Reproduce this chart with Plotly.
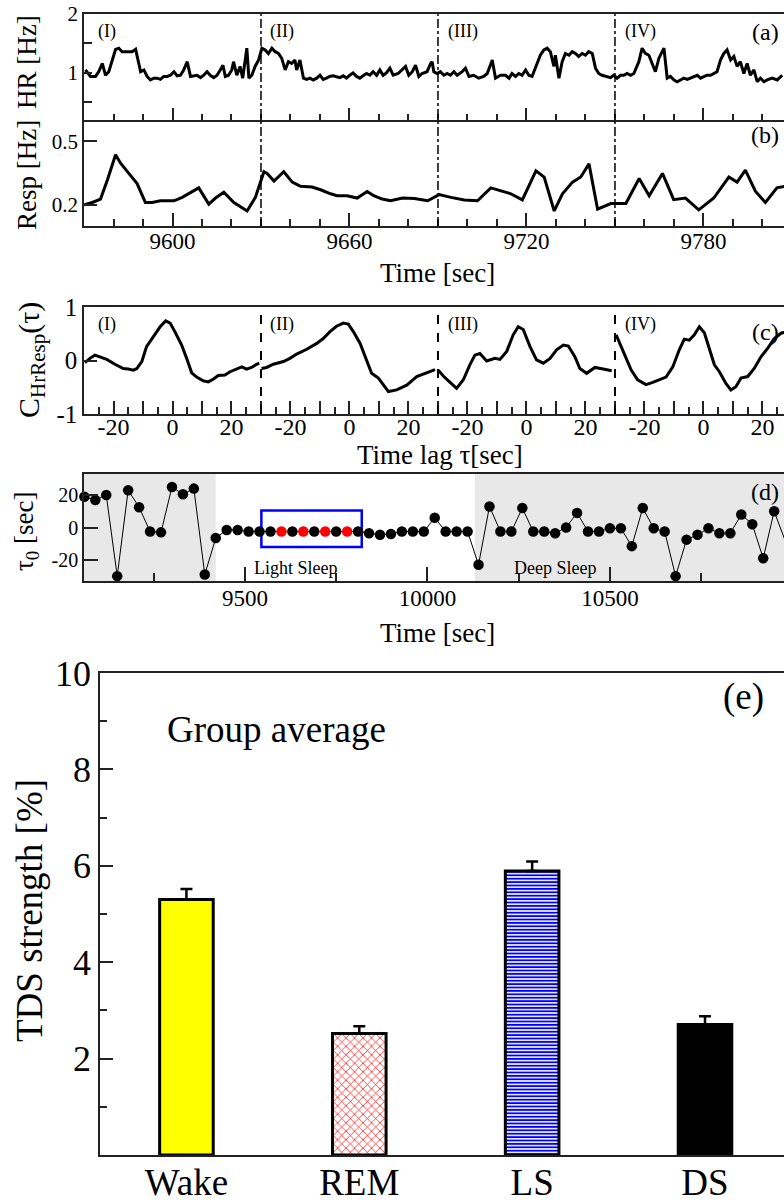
import plotly.graph_objects as go

FONT = "Liberation Serif, Times New Roman, serif"
W, H = 784, 1200

# ---------------- data ----------------
# (a) heart rate [Hz]
hr_t = [9570.5, 9572.2, 9573.9, 9575.0, 9576.2, 9577.3, 9578.4, 9579.5, 9580.7, 9581.8, 9582.9, 9584.6,
        9586.3, 9587.5, 9588.0, 9589.2, 9590.3, 9591.4, 9592.5, 9593.7, 9594.8, 9595.9, 9597.0, 9598.2,
        9599.3, 9600.5, 9601.6, 9602.7, 9603.8, 9605.0, 9606.1, 9607.2, 9608.3, 9609.5, 9610.6, 9611.7,
        9612.8, 9614.0, 9615.1, 9616.2, 9617.1, 9617.9, 9619.0, 9620.1, 9620.7, 9621.8, 9622.9, 9623.8,
        9624.4, 9625.2, 9625.9, 9626.9, 9628.0, 9629.2, 9630.3, 9631.4, 9632.5, 9633.7, 9634.8, 9635.9,
        9637.0, 9638.2, 9639.3, 9640.4, 9641.5, 9642.1, 9643.2, 9644.4, 9645.5, 9646.6, 9647.7, 9648.9,
        9650.0, 9651.1, 9652.2, 9653.3, 9654.5, 9655.6, 9656.7, 9657.9, 9659.0, 9660.1, 9661.2, 9662.4,
        9663.5, 9664.6, 9665.8, 9666.9, 9668.0, 9669.2, 9670.3, 9671.4, 9672.5, 9673.7, 9674.8, 9676.5,
        9679.0, 9680.1, 9681.3, 9682.4, 9683.5, 9684.6, 9686.3, 9687.5, 9688.0, 9688.6, 9689.7, 9690.8,
        9692.0, 9693.1, 9694.2, 9695.4, 9696.5, 9698.2, 9699.3, 9700.5, 9702.1, 9703.8, 9705.5, 9706.7,
        9708.4, 9709.5, 9711.2, 9712.9, 9714.1, 9715.1, 9716.3, 9717.4, 9718.5, 9719.7, 9720.8, 9721.9,
        9723.6, 9724.7, 9725.9, 9727.0, 9728.1, 9729.3, 9729.8, 9731.0, 9732.1, 9733.2, 9734.4, 9735.5,
        9736.6, 9737.7, 9738.9, 9740.0, 9741.1, 9742.3, 9743.4, 9744.5, 9745.6, 9746.8, 9748.5, 9749.6,
        9750.7, 9751.9, 9753.0, 9754.1, 9755.3, 9756.4, 9758.1, 9759.2, 9760.3, 9761.5, 9762.6, 9763.7,
        9764.9, 9766.0, 9766.6, 9767.7, 9768.8, 9770.0, 9771.1, 9772.2, 9773.3, 9774.5, 9775.6, 9776.7,
        9777.9, 9779.0, 9780.1, 9781.2, 9782.4, 9783.5, 9784.6, 9785.8, 9786.9, 9788.0, 9789.2, 9790.3,
        9791.4, 9792.5, 9793.7, 9794.8, 9795.9, 9797.1, 9798.2, 9799.3, 9800.5, 9801.6, 9803.3, 9805.0,
        9806.7]
hr_v = [1.05, 0.94, 0.94, 1.02, 1.16, 0.96, 1.02, 1.22, 1.40, 1.42, 1.36, 1.36,
        1.36, 1.40, 1.28, 1.02, 1.05, 0.94, 0.88, 0.91, 0.91, 0.89, 0.94, 0.94,
        0.96, 1.02, 0.95, 0.96, 1.05, 1.19, 0.94, 0.95, 0.96, 0.92, 0.96, 1.02,
        0.96, 0.92, 0.96, 1.05, 1.13, 0.94, 0.96, 1.05, 1.19, 0.96, 1.11, 0.91,
        1.16, 1.42, 0.91, 0.96, 1.11, 1.22, 1.42, 1.39, 1.33, 1.42, 1.36, 1.33,
        1.25, 1.05, 1.19, 1.16, 1.22, 1.05, 1.22, 0.91, 0.89, 0.91, 0.88, 0.91,
        0.96, 0.89, 0.91, 0.94, 0.95, 0.94, 0.92, 0.95, 0.91, 0.96, 1.00, 0.94,
        0.91, 0.95, 0.99, 0.96, 1.02, 0.96, 1.05, 0.96, 1.00, 1.08, 0.96, 0.99,
        1.11, 0.96, 1.02, 1.13, 0.94, 0.99, 1.02, 1.16, 1.19, 1.02, 0.99, 1.02,
        0.96, 0.99, 0.96, 1.02, 0.96, 1.02, 1.08, 0.94, 0.96, 0.91, 0.94, 0.99,
        1.22, 0.91, 0.96, 0.96, 0.91, 0.99, 0.94, 0.99, 0.96, 1.05, 0.96, 0.94,
        1.16, 1.30, 1.39, 1.42, 1.36, 1.11, 1.30, 0.91, 1.19, 1.33, 1.30, 1.36,
        1.33, 1.28, 1.33, 1.30, 1.36, 1.33, 1.08, 0.99, 0.96, 0.94, 0.92, 0.96,
        0.91, 0.96, 0.96, 0.99, 0.96, 0.99, 1.19, 1.42, 1.33, 1.30, 1.16, 1.02,
        1.25, 1.36, 1.42, 0.91, 0.94, 0.88, 0.85, 0.88, 0.91, 0.89, 0.91, 0.94,
        0.96, 0.91, 0.94, 0.96, 0.96, 0.99, 1.02, 1.22, 1.33, 1.39, 1.22, 1.28,
        1.11, 1.19, 0.99, 1.16, 0.96, 1.05, 0.85, 0.91, 0.85, 0.88, 0.91, 0.88,
        0.96]

# (b) respiration [Hz]
resp_t = [9570.2, 9572.8, 9575.6, 9577.9, 9580.7, 9582.4, 9585.2, 9588.0, 9590.8, 9593.1,
          9595.9, 9600.5, 9603.3, 9606.1, 9608.9, 9612.3, 9614.6, 9617.4, 9620.8, 9625.3,
          9628.1, 9631.0, 9632.1, 9634.4, 9637.7, 9640.6, 9643.4, 9647.3, 9650.2, 9653.6,
          9655.8, 9659.2, 9662.6, 9666.0, 9668.2, 9671.1, 9673.9, 9678.0, 9682.0, 9686.5,
          9690.4, 9694.4, 9698.9, 9703.4, 9707.9, 9714.7, 9718.6, 9723.2, 9726.0, 9729.4,
          9732.2, 9735.6, 9738.4, 9741.2, 9744.1, 9748.6, 9753.7, 9758.2, 9761.6, 9766.1,
          9769.9, 9773.9, 9778.4, 9783.5, 9788.6, 9791.4, 9794.2, 9797.6, 9801.0, 9804.9,
          9807.4]
resp_v = [0.200, 0.211, 0.227, 0.316, 0.436, 0.396, 0.348, 0.300, 0.211, 0.211,
          0.219, 0.219, 0.235, 0.259, 0.280, 0.203, 0.232, 0.259, 0.211, 0.171,
          0.235, 0.356, 0.348, 0.312, 0.356, 0.307, 0.287, 0.284, 0.271, 0.252,
          0.243, 0.243, 0.232, 0.263, 0.243, 0.227, 0.219, 0.232, 0.230, 0.219,
          0.248, 0.235, 0.223, 0.219, 0.280, 0.252, 0.223, 0.360, 0.331, 0.171,
          0.252, 0.307, 0.331, 0.393, 0.179, 0.206, 0.206, 0.324, 0.243, 0.348,
          0.224, 0.232, 0.176, 0.232, 0.331, 0.307, 0.364, 0.264, 0.211, 0.280,
          0.287]

window_edges = [9630, 9690, 9750]
window_names = ["(I)", "(II)", "(III)", "(IV)"]

# (c) cross-correlation per window
c1_lag = [-29.7, -28.0, -26.3, -24.6, -22.3, -19.5, -16.7, -15.0, -13.3, -12.1, -10.4, -8.8, -6.5,
          -4.2, -2.3, -0.8, 0.8, 3.1, 4.8, 6.5, 8.2, 10.4, 12.1, 13.8, 15.5, 17.8, 19.5, 21.8,
          23.5, 25.1, 26.8, 28.5, 29.4]
c1_val = [-0.04, 0.04, 0.10, 0.07, 0.02, -0.07, -0.15, -0.16, -0.18, -0.15, -0.02, 0.26, 0.44,
          0.63, 0.74, 0.70, 0.54, 0.29, 0.04, -0.23, -0.31, -0.38, -0.40, -0.35, -0.28, -0.27,
          -0.21, -0.15, -0.12, -0.16, -0.13, -0.07, -0.05]
c2_lag = [-29.8, -28.1, -25.8, -22.4, -20.2, -17.9, -14.5, -11.1, -8.9, -6.6, -4.4, -2.1, -0.4,
          1.3, 3.6, 5.8, 7.5, 9.8, 11.5, 13.2, 16.0, 19.4, 22.8, 25.6, 29.0]
c2_val = [-0.15, -0.13, -0.07, -0.02, 0.04, 0.12, 0.21, 0.32, 0.41, 0.54, 0.64, 0.70, 0.68,
          0.54, 0.32, 0.01, -0.24, -0.33, -0.46, -0.58, -0.55, -0.46, -0.30, -0.24, -0.17]
c3_lag = [-29.9, -28.2, -25.9, -23.7, -21.4, -19.2, -17.5, -15.8, -13.5, -10.7, -9.0, -6.7, -4.5,
          -2.8, -1.1, 1.2, 3.4, 5.7, 8.0, 10.2, 12.5, 14.2, 16.4, 18.1, 20.4, 23.2, 26.0, 28.9]
c3_val = [-0.18, -0.29, -0.41, -0.52, -0.36, -0.08, 0.10, 0.13, -0.01, 0.04, 0.02, 0.17, 0.48,
          0.63, 0.58, 0.26, 0.01, -0.05, 0.04, 0.20, 0.29, 0.27, 0.07, -0.15, -0.24, -0.13,
          -0.16, -0.19]
c4_lag = [-29.6, -27.9, -26.2, -24.5, -22.3, -19.5, -17.2, -14.9, -12.7, -10.4, -8.2, -6.5, -4.8,
          -3.1, -1.4, 0.3, 2.0, 3.7, 5.4, 7.6, 9.3, 11.0, 12.7, 15.0, 17.2, 19.5, 21.8, 24.0,
          26.3, 28.2]
c4_val = [0.48, 0.26, 0.01, -0.18, -0.36, -0.45, -0.41, -0.36, -0.31, -0.12, 0.20, 0.40, 0.38,
          0.48, 0.63, 0.52, 0.23, -0.08, -0.21, -0.43, -0.55, -0.49, -0.33, -0.30, -0.15, 0.07,
          0.23, 0.41, 0.51, 0.54]
lag_max = 30

# (d) time delay tau0 [sec]
tau_t = [9060, 9090, 9120, 9150, 9180, 9210, 9240, 9270, 9300, 9330, 9360, 9390, 9420, 9450,
         9480, 9510, 9540, 9570, 9600, 9630, 9660, 9690, 9720, 9750, 9780, 9810, 9840, 9870,
         9900, 9930, 9960, 9990, 10020, 10050, 10080, 10110, 10140, 10170, 10200, 10230, 10260,
         10290, 10320, 10350, 10380, 10410, 10440, 10470, 10500, 10530, 10560, 10590, 10620,
         10650, 10680, 10710, 10740, 10770, 10800, 10830, 10860, 10890, 10920, 10950, 10980]
tau_v = [19, 17, 20, -30, 23, 12.5, -2.5, -3, 25, 20.5, 24, -29, -6.5, -1.5,
         -1.5, -2.5, -2.5, -2.5, -2.5, -2.5, -2.5, -2.5, -2.5, -2.5, -2.5, -2.5, -3.5, -4.5,
         -4, -2.5, -2.5, -2.5, 6, -2.5, -2.5, -2.5, -23, 13, -2.5, -2.5, 12,
         -2.5, -2.5, -3.5, 0, 9, -2.5, -2.5, -0.5, -0.5, -11.5, 12, -0.5,
         -2.5, -30, -7.5, -4.5, -0.5, -3.5, -3.5, 8, 2, -19, 10, -8]
tau_highlight = [9600, 9660, 9720, 9780]
wake_end = 9420
deep_start = 10130
light_box_t = [9545, 9820]
light_box_v = [-12, 10.5]

# (e) group average
stages = ["Wake", "REM", "LS", "DS"]
tds_mean = [5.30, 2.52, 5.89, 2.71]
tds_err = [0.22, 0.15, 0.20, 0.17]

# ---------------- styling ----------------
stage_fill = ["yellow", "white", "white", "black"]
stage_pattern = ["", "x", "-", ""]
stage_fg = ["black", "red", "blue", "black"]
stage_psize = [8, 6, 3.4, 8]
stage_solid = [0.3, 0.22, 0.55, 0.3]


def px(x):
    return x / W


def py(y):
    return 1 - y / H


def tf(size):
    return dict(family=FONT, size=size, color="black")


XL = px(84)
AX = dict(showline=True, linecolor="#222", linewidth=1.5, showgrid=False, zeroline=False,
          ticks="inside", tickcolor="#222", tickwidth=1.5, automargin=False)
MIN = dict(ticks="inside", tickcolor="#222", tickwidth=1.5)
t_range = [9570, 9807.3]
tau_range = [9059, 10977]

fig = go.Figure()

fig.add_trace(go.Scatter(x=hr_t, y=hr_v, mode="lines", line=dict(color="black", width=3),
                         xaxis="x", yaxis="y", hoverinfo="skip"))
fig.add_trace(go.Scatter(x=resp_t, y=resp_v, mode="lines", line=dict(color="black", width=3),
                         xaxis="x2", yaxis="y2", hoverinfo="skip"))

c_windows = [(c1_lag, c1_val), (c2_lag, c2_val), (c3_lag, c3_val), (c4_lag, c4_val)]
for k, (lag, val) in enumerate(c_windows):
    centre = lag_max + 2 * lag_max * k
    fig.add_trace(go.Scatter(x=[centre + l for l in lag], y=val, mode="lines",
                             line=dict(color="black", width=3), xaxis="x3", yaxis="y3",
                             hoverinfo="skip"))

tau_colors = ["red" if t in tau_highlight else "black" for t in tau_t]
fig.add_trace(go.Scatter(x=tau_t, y=tau_v, mode="lines+markers",
                         line=dict(color="black", width=1),
                         marker=dict(size=10.5, color=tau_colors),
                         cliponaxis=False, xaxis="x4", yaxis="y4", hoverinfo="skip"))

for i, st in enumerate(stages):
    fig.add_trace(go.Bar(
        x=[st], y=[tds_mean[i]], width=0.31, xaxis="x5", yaxis="y5",
        marker=dict(color=stage_fill[i], line=dict(color="black", width=3),
                    pattern=dict(shape=stage_pattern[i], fgcolor=stage_fg[i], fgopacity=1,
                                 size=stage_psize[i], solidity=stage_solid[i],
                                 fillmode="replace")),
        error_y=dict(type="data", array=[tds_err[i]], arrayminus=[0], symmetric=False,
                     color="black", thickness=2.5, width=6),
        hoverinfo="skip",
    ))

# c-panel tick positions (lag labels repeated per window)
c_tickvals, c_ticktext, c_minor = [], [], []
for k in range(4):
    centre = lag_max + 2 * lag_max * k
    for l in [-30, -20, -10, 0, 10, 20]:
        c_tickvals.append(centre + l)
        c_ticktext.append(str(l) if l in (-20, 0, 20) else "")
    for l in [-25, -15, -5, 5, 15, 25]:
        c_minor.append(centre + l)

fig.update_layout(
    width=W, height=H, margin=dict(l=0, r=0, t=0, b=0, pad=0, autoexpand=False),
    paper_bgcolor="white", plot_bgcolor="white", showlegend=False, barmode="overlay",
    font=dict(family=FONT, color="black"),
    xaxis=dict(AX, domain=[XL, 1], anchor="y", range=t_range, mirror=True,
               tick0=9600, dtick=60, ticklen=12, showticklabels=False,
               minor=dict(MIN, tick0=9600, dtick=10, ticklen=6)),
    yaxis=dict(AX, domain=[py(120), py(14)], anchor="x", range=[0.2, 2],
               tickvals=[1, 2], ticktext=["1", "2"], ticklen=8, tickfont=tf(21),
               minor=dict(MIN, tickvals=[0.5, 1.5], ticklen=8)),
    xaxis2=dict(AX, domain=[XL, 1], anchor="y2", range=t_range, mirror=False,
                tick0=9600, dtick=60, ticklen=13, tickfont=tf(23), tickformat="d",
                ticklabelstandoff=-6,
                minor=dict(MIN, tick0=9600, dtick=10, ticklen=7)),
    yaxis2=dict(AX, domain=[py(226), py(120)], anchor="x2", range=[0.1, 0.6],
                tickvals=[0.2, 0.5], ticktext=["0.2", "0.5"], ticklen=13, tickfont=tf(21)),
    xaxis3=dict(AX, domain=[XL, 1], anchor="y3", range=[0, 237.3], mirror=True,
                tickvals=c_tickvals, ticktext=c_ticktext, ticklen=13, tickfont=tf(24),
                ticklabelstandoff=-10,
                minor=dict(MIN, tickvals=c_minor, ticklen=7)),
    yaxis3=dict(AX, domain=[py(414), py(307)], anchor="x3", range=[-1, 1],
                tickvals=[-1, 0, 1], ticktext=["-1", "0", "1"], ticklen=13, tickfont=tf(25)),
    xaxis4=dict(AX, domain=[XL, 1], anchor="y4", range=tau_range, mirror=True,
                tickvals=[9500, 10000, 10500], ticktext=["9500", "10000", "10500"],
                ticklen=14, tickfont=tf(23), ticklabelstandoff=-4,
                minor=dict(MIN, tickvals=[9250, 9750, 10250, 10750], ticklen=8)),
    yaxis4=dict(AX, domain=[py(581), py(474)], anchor="x4", range=[-33, 33],
                tickvals=[-20, 0, 20], ticktext=["-20", "0", "20"], ticklen=14, tickfont=tf(20)),
    xaxis5=dict(showline=True, linecolor="#222", linewidth=1.5, showgrid=False, zeroline=False,
                automargin=False, domain=[px(100), 1], anchor="y5", type="category",
                range=[-0.5, 3.457], mirror=True, ticks="", tickfont=tf(37),
                ticklabelstandoff=-6),
    yaxis5=dict(AX, domain=[py(1155), py(673)], anchor="x5", range=[0, 10],
                tickvals=[2, 4, 6, 8, 10], ticktext=["2", "4", "6", "8", "10"],
                ticklen=13, tickfont=tf(36),
                minor=dict(MIN, tickvals=[1, 3, 5, 7, 9], ticklen=7)),
)

shapes = []
for t in window_edges:
    shapes.append(dict(type="line", xref="x", yref="paper", x0=t, x1=t,
                       y0=py(226), y1=py(14), line=dict(color="black", width=1.5, dash="dashdot")))
for k in range(1, 4):
    xc = 2 * lag_max * k
    shapes.append(dict(type="line", xref="x3", yref="y3 domain", x0=xc, x1=xc, y0=0, y1=1,
                       line=dict(color="black", width=2, dash="dash")))
shapes.append(dict(type="rect", xref="x4", yref="y4 domain", x0=tau_range[0], x1=wake_end,
                   y0=0, y1=1, fillcolor="#e8e8e8", line=dict(width=0), layer="below"))
shapes.append(dict(type="rect", xref="x4", yref="y4 domain", x0=deep_start, x1=tau_range[1],
                   y0=0, y1=1, fillcolor="#e8e8e8", line=dict(width=0), layer="below"))
shapes.append(dict(type="rect", xref="x4", yref="y4", x0=light_box_t[0], x1=light_box_t[1],
                   y0=light_box_v[0], y1=light_box_v[1], line=dict(color="blue", width=2.5),
                   fillcolor="rgba(0,0,0,0)", layer="below"))
fig.update_layout(shapes=shapes)


def ann(text, x, y, size, angle=0, xanchor="center"):
    return dict(text=text, x=px(x), y=py(y), xref="paper", yref="paper", showarrow=False,
                font=tf(size), textangle=angle, xanchor=xanchor, yanchor="middle")


annotations = [
    ann("HR [Hz]", 27, 62, 27, -90),
    ann("Resp [Hz]", 27, 175, 27, -90),
    ann("Time [sec]", 437, 273, 27),
    ann("C<sub>HrResp</sub>(τ)", 31, 360, 30, -90),
    ann("Time lag τ[sec]", 440, 455, 27),
    ann("τ<sub>0</sub> [sec]", 26, 531, 27, -90),
    ann("Time [sec]", 437, 633, 27),
    ann("TDS strength [%]", 29, 911, 37, -90),
    ann("Group average", 276, 730, 37),
    ann("(e)", 743, 697, 37),
    ann("(a)", 781, 32, 24, xanchor="right"),
    ann("(b)", 781, 135, 24, xanchor="right"),
    ann("(c)", 781, 332, 24, xanchor="right"),
    ann("(d)", 781, 492, 24, xanchor="right"),
    ann("Light Sleep", 252, 568, 18, xanchor="left"),
    ann("Deep Sleep", 512, 568, 18, xanchor="left"),
]
for name, xa in zip(window_names, [107, 282, 463, 640]):
    annotations.append(ann(name, xa, 31, 18))
    annotations.append(ann(name, xa, 324, 18))
fig.update_layout(annotations=annotations)

fig.write_html("out.html", config={"displayModeBar": False},
               post_script="document.body.style.margin='0px';")
